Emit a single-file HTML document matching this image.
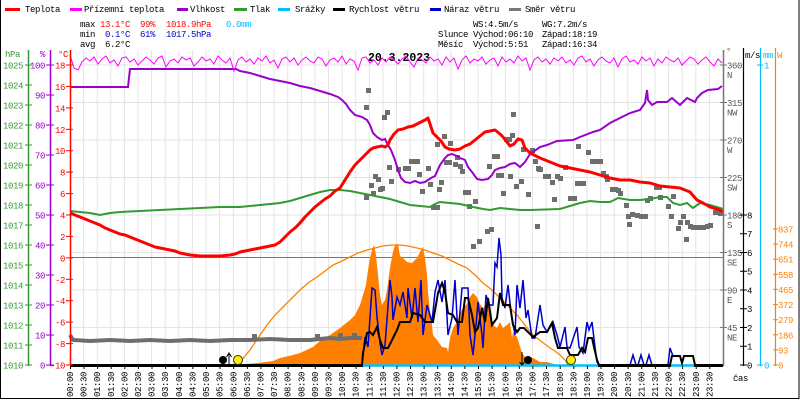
<!DOCTYPE html>
<html><head><meta charset="utf-8"><style>
html,body{margin:0;padding:0;background:#fff;}
svg{display:block;}
text{font-family:"Liberation Mono","DejaVu Sans Mono",monospace;font-size:9px;letter-spacing:-0.4px;}
</style></head><body>
<svg width="800" height="400" viewBox="0 0 800 400" xmlns="http://www.w3.org/2000/svg">
<rect x="0" y="0" width="800" height="400" fill="#fff"/>
<rect x="0.5" y="-2" width="798.5" height="400.5" fill="none" stroke="#000" stroke-width="1"/>

<!-- legend -->
<g stroke-width="3">
<line x1="5" y1="9.5" x2="20" y2="9.5" stroke="#ff0000"/>
<line x1="70" y1="9.5" x2="82" y2="9.5" stroke="#ff00ff"/>
<line x1="177" y1="9.5" x2="188" y2="9.5" stroke="#9900cc"/>
<line x1="234" y1="9.5" x2="247" y2="9.5" stroke="#339933"/>
<line x1="278" y1="9.5" x2="290" y2="9.5" stroke="#00bfff"/>
<line x1="333" y1="9.5" x2="345" y2="9.5" stroke="#000"/>
<line x1="430" y1="9.5" x2="441" y2="9.5" stroke="#0000cc"/>
<line x1="509" y1="9.5" x2="521" y2="9.5" stroke="#777"/>
</g>
<g fill="#000">
<text x="25" y="12">Teplota</text>
<text x="84" y="12">Přízemní teplota</text>
<text x="190" y="12">Vlhkost</text>
<text x="250" y="12">Tlak</text>
<text x="295" y="12">Srážky</text>
<text x="349" y="12">Rychlost větru</text>
<text x="444" y="12">Náraz větru</text>
<text x="525" y="12">Směr větru</text>
<text x="80" y="27">max</text>
<text x="80" y="37">min</text>
<text x="80" y="47">avg</text>
<text x="105" y="47">6.2°C</text>
<text x="473" y="27">WS:4.5m/s</text>
<text x="542" y="27">WG:7.2m/s</text>
<text x="438" y="37">Slunce</text>
<text x="473" y="37">Východ:06:10</text>
<text x="542" y="37">Západ:18:19</text>
<text x="438" y="47">Měsíc</text>
<text x="473" y="47">Východ:5:51</text>
<text x="542" y="47">Západ:16:34</text>
</g>
<g fill="#ff0000">
<text x="100" y="27">13.1°C</text>
<text x="140" y="27">99%</text>
<text x="166" y="27">1018.9hPa</text>
</g>
<text x="226" y="27" fill="#00bfff">0.0mm</text>
<g fill="#0000cc">
<text x="105" y="37">0.1°C</text>
<text x="140" y="37">61%</text>
<text x="166" y="37">1017.5hPa</text>
</g>

<!-- grid -->
<g stroke="#e4e4e4" stroke-width="1">
<line x1="83.6" y1="50" x2="83.6" y2="365"/><line x1="97.2" y1="50" x2="97.2" y2="365"/><line x1="110.8" y1="50" x2="110.8" y2="365"/><line x1="124.4" y1="50" x2="124.4" y2="365"/><line x1="138" y1="50" x2="138" y2="365"/><line x1="151.6" y1="50" x2="151.6" y2="365"/><line x1="165.2" y1="50" x2="165.2" y2="365"/><line x1="178.8" y1="50" x2="178.8" y2="365"/><line x1="192.4" y1="50" x2="192.4" y2="365"/><line x1="206" y1="50" x2="206" y2="365"/><line x1="219.6" y1="50" x2="219.6" y2="365"/><line x1="233.3" y1="50" x2="233.3" y2="365"/><line x1="246.9" y1="50" x2="246.9" y2="365"/><line x1="260.5" y1="50" x2="260.5" y2="365"/><line x1="274.1" y1="50" x2="274.1" y2="365"/><line x1="287.7" y1="50" x2="287.7" y2="365"/><line x1="301.3" y1="50" x2="301.3" y2="365"/><line x1="314.9" y1="50" x2="314.9" y2="365"/><line x1="328.5" y1="50" x2="328.5" y2="365"/><line x1="342.1" y1="50" x2="342.1" y2="365"/><line x1="355.7" y1="50" x2="355.7" y2="365"/><line x1="369.3" y1="50" x2="369.3" y2="365"/><line x1="382.9" y1="50" x2="382.9" y2="365"/><line x1="396.5" y1="50" x2="396.5" y2="365"/><line x1="410.1" y1="50" x2="410.1" y2="365"/><line x1="423.7" y1="50" x2="423.7" y2="365"/><line x1="437.3" y1="50" x2="437.3" y2="365"/><line x1="450.9" y1="50" x2="450.9" y2="365"/><line x1="464.5" y1="50" x2="464.5" y2="365"/><line x1="478.1" y1="50" x2="478.1" y2="365"/><line x1="491.7" y1="50" x2="491.7" y2="365"/><line x1="505.3" y1="50" x2="505.3" y2="365"/><line x1="518.9" y1="50" x2="518.9" y2="365"/><line x1="532.5" y1="50" x2="532.5" y2="365"/><line x1="546.1" y1="50" x2="546.1" y2="365"/><line x1="559.8" y1="50" x2="559.8" y2="365"/><line x1="573.4" y1="50" x2="573.4" y2="365"/><line x1="587" y1="50" x2="587" y2="365"/><line x1="600.6" y1="50" x2="600.6" y2="365"/><line x1="614.2" y1="50" x2="614.2" y2="365"/><line x1="627.8" y1="50" x2="627.8" y2="365"/><line x1="641.4" y1="50" x2="641.4" y2="365"/><line x1="655" y1="50" x2="655" y2="365"/><line x1="668.6" y1="50" x2="668.6" y2="365"/><line x1="682.2" y1="50" x2="682.2" y2="365"/><line x1="695.8" y1="50" x2="695.8" y2="365"/><line x1="709.4" y1="50" x2="709.4" y2="365"/>
<line x1="70" y1="65" x2="723" y2="65"/><line x1="70" y1="102.5" x2="723" y2="102.5"/><line x1="70" y1="140" x2="723" y2="140"/><line x1="70" y1="177.5" x2="723" y2="177.5"/><line x1="70" y1="215" x2="723" y2="215"/><line x1="70" y1="252.5" x2="723" y2="252.5"/><line x1="70" y1="290" x2="723" y2="290"/><line x1="70" y1="327.5" x2="723" y2="327.5"/>
</g>
<line x1="70" y1="257.5" x2="723" y2="257.5" stroke="#777" stroke-width="1"/>

<!-- title -->
<text x="399" y="61" text-anchor="middle" style="font-weight:bold;font-size:11.5px;letter-spacing:0">20.3.2023</text>

<!-- solar radiation -->
<path d="M245,365 L247,364 L257,363 L273,361 L280,358 L293,355 L300,353 L313,347 L320,341 L330,335 L340,328 L350,320 L355,315 L360,305 L363,295 L366,285 L368,270 L370,258 L372,250 L374,245 L376,255 L378,275 L380,295 L382,305 L385,300 L387,290 L389,275 L391,262 L393,252 L395,245 L398,244 L400,256 L403,258 L407,262 L412,263 L417,258 L420,252 L423,247 L425,258 L427,275 L428,292 L430,312 L432,325 L433,335 L437,340 L442,347 L447,348 L448,352 L450,338 L453,328 L457,322 L460,313 L463,308 L467,304 L470,297 L473,293 L477,297 L480,304 L483,308 L487,304 L490,310 L493,325 L497,328 L500,322 L503,328 L507,325 L510,322 L512,338 L513,332 L517,337 L518,340 L522,353 L525,357 L533,358 L540,362 L547,362 L557,365 Z" fill="#ff8000"/>
<path d="M238,365 L240,362 L250,350 L258,338 L267,325 L275,315 L283,307 L292,298 L300,290 L308,283 L317,277 L325,271 L333,265 L342,261 L350,257 L358,253 L367,250 L375,248 L383,246 L392,245 L400,245 L408,246 L417,248 L425,250 L433,253 L442,256 L450,260 L458,264 L467,268 L475,275 L483,283 L492,290 L500,298 L508,306 L517,315 L525,325 L533,335 L542,342 L550,348 L555,351 L560,355 L565,360 L568,365" fill="none" stroke="#ff8000" stroke-width="1.3"/>

<!-- wind direction -->
<path d="M70,335 L73,340 L90,341 L110,340 L130,341 L150,340 L170,341 L190,340 L210,341 L230,340 L250,340 L270,339 L290,340 L310,340 L320,339 L330,338 L340,339 L350,338 L362,338" fill="none" stroke="#6e6e6e" stroke-width="4"/>
<g fill="#6e6e6e">
<rect x="252" y="334" width="5" height="4"/><rect x="315" y="334" width="5" height="4"/><rect x="338" y="333" width="5" height="5"/><rect x="352" y="333" width="5" height="5"/>
<rect x="366" y="88" width="5" height="5"/><rect x="364" y="105" width="5" height="5"/><rect x="385" y="110" width="5" height="5"/><rect x="382" y="115" width="5" height="5"/><rect x="435" y="142" width="5" height="5"/><rect x="442" y="134" width="5" height="5"/><rect x="448" y="141" width="5" height="5"/><rect x="511" y="112" width="5" height="5"/><rect x="510" y="133" width="5" height="5"/><rect x="504" y="137" width="5" height="5"/><rect x="507" y="137" width="5" height="5"/><rect x="521" y="147" width="5" height="5"/><rect x="530" y="148" width="5" height="5"/><rect x="533" y="159" width="5" height="5"/><rect x="536" y="166" width="5" height="5"/><rect x="387" y="165" width="5" height="5"/><rect x="373" y="174" width="5" height="5"/><rect x="376" y="177" width="5" height="5"/><rect x="389" y="179" width="5" height="5"/><rect x="396" y="167" width="5" height="5"/><rect x="403" y="166" width="5" height="5"/><rect x="406" y="166" width="5" height="5"/><rect x="409" y="159" width="5" height="5"/><rect x="412" y="159" width="5" height="5"/><rect x="415" y="159" width="5" height="5"/><rect x="417" y="172" width="5" height="5"/><rect x="426" y="166" width="5" height="5"/><rect x="428" y="182" width="5" height="5"/><rect x="420" y="189" width="5" height="5"/><rect x="369" y="183" width="5" height="5"/><rect x="380" y="186" width="5" height="5"/><rect x="378" y="187" width="5" height="5"/><rect x="364" y="195" width="5" height="5"/><rect x="371" y="191" width="5" height="5"/><rect x="437" y="187" width="5" height="5"/><rect x="439" y="180" width="5" height="5"/><rect x="444" y="160" width="5" height="5"/><rect x="447" y="160" width="5" height="5"/><rect x="453" y="162" width="5" height="5"/><rect x="455" y="155" width="5" height="5"/><rect x="458" y="164" width="5" height="5"/><rect x="460" y="169" width="5" height="5"/><rect x="463" y="190" width="5" height="5"/><rect x="466" y="190" width="5" height="5"/><rect x="467" y="204" width="5" height="5"/><rect x="473" y="199" width="5" height="5"/><rect x="431" y="205" width="5" height="5"/><rect x="435" y="205" width="5" height="5"/><rect x="492" y="154" width="5" height="5"/><rect x="495" y="154" width="5" height="5"/><rect x="487" y="164" width="5" height="5"/><rect x="496" y="173" width="5" height="5"/><rect x="499" y="173" width="5" height="5"/><rect x="508" y="174" width="5" height="5"/><rect x="519" y="179" width="5" height="5"/><rect x="514" y="184" width="5" height="5"/><rect x="501" y="191" width="5" height="5"/><rect x="526" y="192" width="5" height="5"/><rect x="537" y="167" width="5" height="5"/><rect x="576" y="144" width="5" height="5"/><rect x="586" y="150" width="5" height="5"/><rect x="590" y="159" width="5" height="5"/><rect x="594" y="159" width="5" height="5"/><rect x="598" y="159" width="5" height="5"/><rect x="538" y="167" width="5" height="5"/><rect x="543" y="174" width="5" height="5"/><rect x="546" y="174" width="5" height="5"/><rect x="555" y="174" width="5" height="5"/><rect x="558" y="176" width="5" height="5"/><rect x="550" y="180" width="5" height="5"/><rect x="563" y="165" width="5" height="5"/><rect x="575" y="181" width="5" height="5"/><rect x="578" y="181" width="5" height="5"/><rect x="581" y="181" width="5" height="5"/><rect x="601" y="171" width="5" height="5"/><rect x="605" y="177" width="5" height="5"/><rect x="604" y="174" width="5" height="5"/><rect x="610" y="187" width="5" height="5"/><rect x="613" y="187" width="5" height="5"/><rect x="616" y="188" width="5" height="5"/><rect x="618" y="191" width="5" height="5"/><rect x="568" y="196" width="5" height="5"/><rect x="572" y="196" width="5" height="5"/><rect x="552" y="197" width="5" height="5"/><rect x="624" y="203" width="5" height="5"/><rect x="630" y="212" width="5" height="5"/><rect x="635" y="213" width="5" height="5"/><rect x="639" y="214" width="5" height="5"/><rect x="643" y="214" width="5" height="5"/><rect x="626" y="214" width="5" height="5"/><rect x="627" y="222" width="5" height="5"/><rect x="535" y="224" width="5" height="5"/><rect x="645" y="198" width="5" height="5"/><rect x="648" y="196" width="5" height="5"/><rect x="654" y="185" width="5" height="5"/><rect x="657" y="185" width="5" height="5"/><rect x="658" y="195" width="5" height="5"/><rect x="666" y="204" width="5" height="5"/><rect x="671" y="194" width="5" height="5"/><rect x="669" y="214" width="5" height="5"/><rect x="681" y="214" width="5" height="5"/><rect x="678" y="220" width="5" height="5"/><rect x="676" y="226" width="5" height="5"/><rect x="685" y="220" width="5" height="5"/><rect x="688" y="224" width="5" height="5"/><rect x="691" y="225" width="5" height="5"/><rect x="696" y="225" width="5" height="5"/><rect x="701" y="225" width="5" height="5"/><rect x="705" y="224" width="5" height="5"/><rect x="708" y="223" width="5" height="5"/><rect x="713" y="210" width="5" height="5"/><rect x="718" y="211" width="5" height="5"/><rect x="684" y="237" width="5" height="5"/><rect x="471" y="244" width="5" height="5"/><rect x="477" y="239" width="5" height="5"/><rect x="485" y="229" width="5" height="5"/><rect x="489" y="227" width="5" height="5"/>
</g>

<!-- pressure -->
<path d="M70,211 L80,212 L90,213 L100,215 L110,213 L120,212 L140,211 L160,210 L180,209 L200,208 L220,207 L240,207 L260,205 L280,203 L290,201 L300,198 L310,195 L320,192 L330,190 L340,190 L350,191 L360,193 L370,195 L380,197 L390,199 L400,202 L410,205 L420,206 L430,207 L435,204 L440,202 L450,203 L460,204 L473,207 L483,209 L490,210 L500,208 L510,209 L520,210 L530,210 L560,209 L570,206 L580,203 L590,201 L600,202 L610,202 L618,198 L630,200 L640,200 L650,199 L660,197 L667,197 L673,203 L680,205 L687,203 L693,208 L700,203 L710,205 L720,208 L723,209" fill="none" stroke="#339933" stroke-width="2"/>

<!-- humidity -->
<path d="M70,87 L128,87 L130,69 L236,69 L240,71 L250,73 L260,76 L270,79 L280,81 L290,83 L300,86 L310,88 L320,91 L330,94 L338,97 L342,100 L346,104 L350,110 L355,115 L362,117 L367,120 L370,125 L373,133 L377,137 L382,140 L385,139 L388,145 L391,150 L395,160 L398,170 L401,178 L405,182 L410,183 L415,181 L420,183 L425,182 L428,180 L431,178 L435,176 L440,165 L445,158 L448,155 L452,154 L457,156 L460,158 L465,160 L468,167 L472,172 L477,179 L482,180 L488,179 L492,175 L495,170 L500,168 L505,167 L510,164 L515,163 L520,167 L525,162 L530,154 L540,147 L547,145 L557,141 L573,140 L580,137 L593,132 L600,130 L610,123 L620,118 L630,113 L640,110 L645,103 L647,90 L648,100 L652,105 L657,102 L667,102 L672,98 L680,105 L687,98 L695,102 L697,98 L702,93 L708,90 L718,89 L722,86" fill="none" stroke="#9900cc" stroke-width="2"/>

<!-- temperature -->
<path d="M70,213 L75,215 L80,217 L85,219 L90,221 L95,223 L100,225 L105,228 L110,230 L115,232 L120,234 L125,235 L130,237 L135,239 L140,241 L145,243 L150,245 L155,247 L160,248 L165,249 L170,250 L175,251 L180,253 L185,254 L190,255 L195,255.5 L200,256 L210,256 L220,256 L230,255 L235,254 L240,252 L245,251 L250,250 L255,249 L260,248 L265,247 L270,246 L275,245 L280,242 L285,237 L290,232 L295,228 L300,223 L305,217 L310,212 L315,207 L320,203 L325,199 L330,196 L335,191 L340,188 L345,180 L350,172 L355,165 L360,160 L365,155 L370,150 L373,148 L377,147 L382,146 L385,147 L388,145 L390,140 L394,134 L398,130 L403,129 L408,127 L413,126 L417,124 L421,122 L425,120 L428,118 L430,124 L433,133 L437,137 L441,141 L445,147 L449,149 L455,150 L460,149 L465,146 L470,144 L475,140 L480,136 L485,132 L490,131 L495,130 L500,134 L503,137 L507,142 L510,146 L514,144 L518,139 L522,140 L525,148 L530,153 L540,158 L550,162 L560,166 L570,168 L580,170 L590,172 L600,175 L610,178 L620,180 L630,180 L640,182 L650,183 L660,186 L670,187 L680,188 L690,192 L697,200 L703,203 L710,207 L720,210 L723,212" fill="none" stroke="#ff0000" stroke-width="3" stroke-linejoin="round"/>

<!-- apparent temperature -->
<polyline fill="none" stroke="#ff00ff" stroke-width="1" points="70,55 74,68 78,70 82,62 86,58 90,61 94,57 98,64 102,59 106,56 110,63 114,60 118,66 122,58 126,57 130,62 134,59 138,65 142,61 146,57 150,60 154,64 158,58 162,56 166,67 170,61 174,59 178,63 182,57 186,60 190,58 194,66 198,62 202,57 206,61 210,59 214,64 218,56 222,60 226,63 230,58 234,71 238,60 242,57 246,62 250,59 254,64 258,58 262,61 266,56 270,63 274,60 278,68 282,59 286,57 290,62 294,58 298,65 302,60 306,57 310,61 314,63 318,57 322,59 326,66 330,60 334,58 338,62 342,56 346,64 350,59 354,61 358,70 362,58 366,57 370,63 374,60 378,65 382,58 386,62 390,57 394,60 398,64 402,59 406,56 410,62 414,67 418,58 422,60 426,63 430,57 434,61 438,59 442,65 446,57 450,62 454,58 458,69 462,60 466,56 470,63 474,59 478,61 482,57 486,64 490,60 494,58 498,66 502,57 506,62 510,59 514,63 518,56 522,61 526,58 530,70 534,60 538,57 542,62 546,59 550,64 554,58 558,61 562,57 566,63 570,60 574,65 578,58 582,56 586,62 590,59 594,66 598,60 602,57 606,61 610,63 614,58 618,67 622,59 626,56 630,62 634,60 638,64 642,57 646,61 650,58 654,66 658,59 662,63 666,57 670,60 674,62 678,58 682,65 686,61 690,57 694,59 698,64 702,60 706,57 710,62 714,66 718,59 722,63"/>

<!-- precipitation zero line -->
<line x1="70" y1="365.5" x2="723" y2="365.5" stroke="#00bfff" stroke-width="2.5"/>

<!-- gusts -->
<path d="M362,365 L365,337 L368,347 L372,288 L375,290 L377,317 L380,343 L382,355 L385,345 L390,280 L392,297 L393,320 L397,297 L400,305 L403,292 L407,318 L408,288 L412,318 L415,288 L418,322 L421,280 L423,335 L427,305 L432,322 L435,292 L438,280 L442,302 L445,280 L448,335 L452,318 L455,280 L458,335 L462,288 L468,288 L470,335 L473,355 L476,325 L478,302 L482,335 L483,348 L486,295 L489,305 L493,305 L495,263 L497,267 L499,238 L501,255 L502,298 L505,308 L508,285 L511,312 L515,335 L517,285 L520,308 L523,280 L526,318 L528,310 L532,338 L535,338 L540,305 L543,325 L547,332 L553,322 L557,335 L560,347 L565,327 L567,347 L570,348 L577,327 L579,347 L583,353 L587,322 L589,330 L592,322 L595,347 L597,362 L599,365 M630,365 L633,355 L636,365 L638,365 L641,355 L644,365 L646,365 L649,355 L652,365 M668,365 L670,348 L673,356" fill="none" stroke="#0000cc" stroke-width="1.5"/>

<!-- wind speed -->
<path d="M362,365 L363,353 L367,333 L370,332 L373,335 L377,327 L380,340 L383,348 L388,348 L392,340 L397,330 L400,322 L410,322 L413,313 L420,315 L425,322 L433,322 L438,293 L442,283 L445,292 L448,313 L453,315 L457,322 L462,322 L465,298 L468,298 L472,315 L475,332 L478,328 L482,308 L485,322 L488,298 L492,325 L497,318 L500,293 L503,305 L510,305 L513,325 L517,332 L520,328 L524,328 L528,332 L533,337 L540,332 L547,332 L552,323 L555,338 L558,348 L567,348 L570,355 L578,355 L582,348 L585,352 L588,338 L592,338 L594,347 L597,360 L599,365 M670,365 L672,356 L680,356 L682,363 L684,356 L693,356 L695,365" fill="none" stroke="#000" stroke-width="2"/>
<g fill="#000">
<rect x="70" y="364" width="293" height="3"/>
<rect x="598" y="364" width="73" height="3"/>
<rect x="694" y="364" width="29" height="3"/>
</g>

<!-- sun / moon markers -->
<circle cx="223" cy="360" r="4" fill="#000"/>
<line x1="229" y1="365" x2="229" y2="354" stroke="#000" stroke-width="1"/>
<path d="M226.5,357 L229,353 L231.5,357" fill="none" stroke="#000" stroke-width="1"/>
<circle cx="238" cy="360" r="4.5" fill="#ffee00" stroke="#333" stroke-width="1"/>
<line x1="522" y1="352" x2="522" y2="365" stroke="#000" stroke-width="1"/>
<path d="M519.5,362 L522,365 L524.5,362" fill="none" stroke="#000" stroke-width="1"/>
<circle cx="528" cy="360" r="4" fill="#000"/>
<circle cx="571" cy="360" r="4.5" fill="#ffee00" stroke="#333" stroke-width="1"/>

<!-- left axes -->
<line x1="28.5" y1="50" x2="28.5" y2="366" stroke="#339933" stroke-width="1.5"/>
<line x1="50.5" y1="50" x2="50.5" y2="366" stroke="#9900cc" stroke-width="1.5"/>
<line x1="70.5" y1="50" x2="70.5" y2="366" stroke="#ff0000" stroke-width="1.5"/>
<text x="5" y="57" fill="#339933">hPa</text>
<text x="40" y="57" fill="#9900cc">%</text>
<text x="58" y="57" fill="#ff0000">°C</text>
<g stroke="#339933" stroke-width="1">
<line x1="25" y1="65" x2="32" y2="65"/><line x1="25" y1="85" x2="32" y2="85"/><line x1="25" y1="105" x2="32" y2="105"/><line x1="25" y1="125" x2="32" y2="125"/><line x1="25" y1="145" x2="32" y2="145"/><line x1="25" y1="165" x2="32" y2="165"/><line x1="25" y1="185" x2="32" y2="185"/><line x1="25" y1="205" x2="32" y2="205"/><line x1="25" y1="225" x2="32" y2="225"/><line x1="25" y1="245" x2="32" y2="245"/><line x1="25" y1="265" x2="32" y2="265"/><line x1="25" y1="285" x2="32" y2="285"/><line x1="25" y1="305" x2="32" y2="305"/><line x1="25" y1="325" x2="32" y2="325"/><line x1="25" y1="345" x2="32" y2="345"/><line x1="25" y1="365" x2="32" y2="365"/>
</g>
<g fill="#339933" text-anchor="end">
<text x="23" y="68.5">1025</text><text x="23" y="88.5">1024</text><text x="23" y="108.5">1023</text><text x="23" y="128.5">1022</text><text x="23" y="148.5">1021</text><text x="23" y="168.5">1020</text><text x="23" y="188.5">1019</text><text x="23" y="208.5">1018</text><text x="23" y="228.5">1017</text><text x="23" y="248.5">1016</text><text x="23" y="268.5">1015</text><text x="23" y="288.5">1014</text><text x="23" y="308.5">1013</text><text x="23" y="328.5">1012</text><text x="23" y="348.5">1011</text><text x="23" y="368.5">1010</text>
</g>
<g stroke="#9900cc" stroke-width="1">
<line x1="46" y1="65" x2="54" y2="65"/><line x1="46" y1="95" x2="54" y2="95"/><line x1="46" y1="125" x2="54" y2="125"/><line x1="46" y1="155" x2="54" y2="155"/><line x1="46" y1="185" x2="54" y2="185"/><line x1="46" y1="215" x2="54" y2="215"/><line x1="46" y1="245" x2="54" y2="245"/><line x1="46" y1="275" x2="54" y2="275"/><line x1="46" y1="305" x2="54" y2="305"/><line x1="46" y1="335" x2="54" y2="335"/><line x1="46" y1="365" x2="54" y2="365"/>
</g>
<g fill="#9900cc" text-anchor="end">
<text x="45" y="68.5">100</text><text x="45" y="98.5">90</text><text x="45" y="128.5">80</text><text x="45" y="158.5">70</text><text x="45" y="188.5">60</text><text x="45" y="218.5">50</text><text x="45" y="248.5">40</text><text x="45" y="278.5">30</text><text x="45" y="308.5">20</text><text x="45" y="338.5">10</text><text x="45" y="368.5">0</text>
</g>
<g stroke="#ff0000" stroke-width="1">
<line x1="66" y1="65" x2="73" y2="65"/><line x1="66" y1="86.4" x2="73" y2="86.4"/><line x1="66" y1="107.9" x2="73" y2="107.9"/><line x1="66" y1="129.3" x2="73" y2="129.3"/><line x1="66" y1="150.7" x2="73" y2="150.7"/><line x1="66" y1="172.1" x2="73" y2="172.1"/><line x1="66" y1="193.6" x2="73" y2="193.6"/><line x1="66" y1="215" x2="73" y2="215"/><line x1="66" y1="236.4" x2="73" y2="236.4"/><line x1="66" y1="257.9" x2="73" y2="257.9"/><line x1="66" y1="279.3" x2="73" y2="279.3"/><line x1="66" y1="300.7" x2="73" y2="300.7"/><line x1="66" y1="322.1" x2="73" y2="322.1"/><line x1="66" y1="343.6" x2="73" y2="343.6"/><line x1="66" y1="365" x2="73" y2="365"/>
</g>
<g fill="#ff0000" text-anchor="end">
<text x="65" y="68.5">18</text><text x="65" y="89.9">16</text><text x="65" y="111.4">14</text><text x="65" y="132.8">12</text><text x="65" y="154.2">10</text><text x="65" y="175.6">8</text><text x="65" y="197.1">6</text><text x="65" y="218.5">4</text><text x="65" y="239.9">2</text><text x="65" y="261.4">0</text><text x="65" y="282.8">-2</text><text x="65" y="304.2">-4</text><text x="65" y="325.6">-6</text><text x="65" y="347.1">-8</text><text x="65" y="368.5">-10</text>
</g>

<!-- right axes -->
<line x1="723.5" y1="50" x2="723.5" y2="366" stroke="#777" stroke-width="1.5"/>
<line x1="743.5" y1="48" x2="743.5" y2="366" stroke="#000" stroke-width="1.2"/>
<line x1="760.5" y1="48" x2="760.5" y2="366" stroke="#00bfff" stroke-width="1.2"/>
<line x1="775.5" y1="48" x2="775.5" y2="366" stroke="#ff8000" stroke-width="1.2"/>
<text x="726" y="54" fill="#555">°</text>
<text x="745" y="58" fill="#000">m/s</text>
<text x="763" y="58" fill="#00bfff">mm</text>
<text x="777" y="58" fill="#ff8000">W</text>
<g stroke="#777" stroke-width="1">
<line x1="720" y1="65" x2="727" y2="65"/><line x1="720" y1="102.5" x2="727" y2="102.5"/><line x1="720" y1="140" x2="727" y2="140"/><line x1="720" y1="177.5" x2="727" y2="177.5"/><line x1="720" y1="215" x2="727" y2="215"/><line x1="720" y1="252.5" x2="727" y2="252.5"/><line x1="720" y1="290" x2="727" y2="290"/><line x1="720" y1="327.5" x2="727" y2="327.5"/>
</g>
<g fill="#555">
<text x="727" y="68.5">360</text><text x="727" y="78">N</text>
<text x="727" y="106">315</text><text x="727" y="115.5">NW</text>
<text x="727" y="143.5">270</text><text x="727" y="153">W</text>
<text x="727" y="181">225</text><text x="727" y="190.5">SW</text>
<text x="727" y="218.5">180</text><text x="727" y="228">S</text>
<text x="727" y="256">135</text><text x="727" y="265.5">SE</text>
<text x="727" y="293.5">90</text><text x="727" y="303">E</text>
<text x="727" y="331">45</text><text x="727" y="340.5">NE</text>
</g>
<g stroke="#000" stroke-width="1">
<line x1="740" y1="215" x2="747" y2="215"/><line x1="740" y1="233.75" x2="747" y2="233.75"/><line x1="740" y1="252.5" x2="747" y2="252.5"/><line x1="740" y1="271.25" x2="747" y2="271.25"/><line x1="740" y1="290" x2="747" y2="290"/><line x1="740" y1="308.75" x2="747" y2="308.75"/><line x1="740" y1="327.5" x2="747" y2="327.5"/><line x1="740" y1="346.25" x2="747" y2="346.25"/><line x1="740" y1="365" x2="747" y2="365"/>
</g>
<g fill="#000">
<text x="747" y="218.5">8</text><text x="747" y="237.2">7</text><text x="747" y="256">6</text><text x="747" y="274.7">5</text><text x="747" y="293.5">4</text><text x="747" y="312.2">3</text><text x="747" y="331">2</text><text x="747" y="349.7">1</text><text x="747" y="368.5">0</text>
</g>
<g stroke="#00bfff" stroke-width="1">
<line x1="757" y1="65" x2="763" y2="65"/><line x1="757" y1="365" x2="763" y2="365"/>
</g>
<g fill="#00bfff">
<text x="764" y="68.5">1</text><text x="764" y="368.5">0</text>
</g>
<g stroke="#ff8000" stroke-width="1">
<line x1="773" y1="229" x2="778" y2="229"/><line x1="773" y1="244.1" x2="778" y2="244.1"/><line x1="773" y1="259.2" x2="778" y2="259.2"/><line x1="773" y1="274.3" x2="778" y2="274.3"/><line x1="773" y1="289.4" x2="778" y2="289.4"/><line x1="773" y1="304.6" x2="778" y2="304.6"/><line x1="773" y1="319.7" x2="778" y2="319.7"/><line x1="773" y1="334.8" x2="778" y2="334.8"/><line x1="773" y1="349.9" x2="778" y2="349.9"/><line x1="773" y1="365" x2="778" y2="365"/>
</g>
<g fill="#ff8000">
<text x="778" y="232.5">837</text><text x="778" y="247.6">744</text><text x="778" y="262.7">651</text><text x="778" y="277.8">558</text><text x="778" y="292.9">465</text><text x="778" y="308.1">372</text><text x="778" y="323.2">279</text><text x="778" y="338.3">186</text><text x="778" y="353.4">93</text><text x="778" y="368.5">0</text>
</g>
<text x="733" y="381" fill="#000">čas</text>

<!-- x ticks -->
<g stroke="#000" stroke-width="1">
<line x1="70.5" y1="366" x2="70.5" y2="369"/><line x1="84" y1="366" x2="84" y2="369"/><line x1="97.6" y1="366" x2="97.6" y2="369"/><line x1="111.2" y1="366" x2="111.2" y2="369"/><line x1="124.8" y1="366" x2="124.8" y2="369"/><line x1="138.4" y1="366" x2="138.4" y2="369"/><line x1="152" y1="366" x2="152" y2="369"/><line x1="165.6" y1="366" x2="165.6" y2="369"/><line x1="179.2" y1="366" x2="179.2" y2="369"/><line x1="192.8" y1="366" x2="192.8" y2="369"/><line x1="206.4" y1="366" x2="206.4" y2="369"/><line x1="220" y1="366" x2="220" y2="369"/><line x1="233.7" y1="366" x2="233.7" y2="369"/><line x1="247.3" y1="366" x2="247.3" y2="369"/><line x1="260.9" y1="366" x2="260.9" y2="369"/><line x1="274.5" y1="366" x2="274.5" y2="369"/><line x1="288.1" y1="366" x2="288.1" y2="369"/><line x1="301.7" y1="366" x2="301.7" y2="369"/><line x1="315.3" y1="366" x2="315.3" y2="369"/><line x1="328.9" y1="366" x2="328.9" y2="369"/><line x1="342.5" y1="366" x2="342.5" y2="369"/><line x1="356.1" y1="366" x2="356.1" y2="369"/><line x1="369.7" y1="366" x2="369.7" y2="369"/><line x1="383.3" y1="366" x2="383.3" y2="369"/><line x1="396.9" y1="366" x2="396.9" y2="369"/><line x1="410.5" y1="366" x2="410.5" y2="369"/><line x1="424.1" y1="366" x2="424.1" y2="369"/><line x1="437.7" y1="366" x2="437.7" y2="369"/><line x1="451.3" y1="366" x2="451.3" y2="369"/><line x1="464.9" y1="366" x2="464.9" y2="369"/><line x1="478.5" y1="366" x2="478.5" y2="369"/><line x1="492.1" y1="366" x2="492.1" y2="369"/><line x1="505.7" y1="366" x2="505.7" y2="369"/><line x1="519.3" y1="366" x2="519.3" y2="369"/><line x1="532.9" y1="366" x2="532.9" y2="369"/><line x1="546.5" y1="366" x2="546.5" y2="369"/><line x1="560.2" y1="366" x2="560.2" y2="369"/><line x1="573.8" y1="366" x2="573.8" y2="369"/><line x1="587.4" y1="366" x2="587.4" y2="369"/><line x1="601" y1="366" x2="601" y2="369"/><line x1="614.6" y1="366" x2="614.6" y2="369"/><line x1="628.2" y1="366" x2="628.2" y2="369"/><line x1="641.8" y1="366" x2="641.8" y2="369"/><line x1="655.4" y1="366" x2="655.4" y2="369"/><line x1="669" y1="366" x2="669" y2="369"/><line x1="682.6" y1="366" x2="682.6" y2="369"/><line x1="696.2" y1="366" x2="696.2" y2="369"/><line x1="709.8" y1="366" x2="709.8" y2="369"/>
</g>

<!-- x labels -->
<g fill="#000">
<text transform="translate(73,397) rotate(-90)">00:00</text>
<text transform="translate(86.6,397) rotate(-90)">00:30</text>
<text transform="translate(100.2,397) rotate(-90)">01:00</text>
<text transform="translate(113.8,397) rotate(-90)">01:30</text>
<text transform="translate(127.4,397) rotate(-90)">02:00</text>
<text transform="translate(141,397) rotate(-90)">02:30</text>
<text transform="translate(154.6,397) rotate(-90)">03:00</text>
<text transform="translate(168.2,397) rotate(-90)">03:30</text>
<text transform="translate(181.8,397) rotate(-90)">04:00</text>
<text transform="translate(195.4,397) rotate(-90)">04:30</text>
<text transform="translate(209,397) rotate(-90)">05:00</text>
<text transform="translate(222.6,397) rotate(-90)">05:30</text>
<text transform="translate(236.3,397) rotate(-90)">06:00</text>
<text transform="translate(249.9,397) rotate(-90)">06:30</text>
<text transform="translate(263.5,397) rotate(-90)">07:00</text>
<text transform="translate(277.1,397) rotate(-90)">07:30</text>
<text transform="translate(290.7,397) rotate(-90)">08:00</text>
<text transform="translate(304.3,397) rotate(-90)">08:30</text>
<text transform="translate(317.9,397) rotate(-90)">09:00</text>
<text transform="translate(331.5,397) rotate(-90)">09:30</text>
<text transform="translate(345.1,397) rotate(-90)">10:00</text>
<text transform="translate(358.7,397) rotate(-90)">10:30</text>
<text transform="translate(372.3,397) rotate(-90)">11:00</text>
<text transform="translate(385.9,397) rotate(-90)">11:30</text>
<text transform="translate(399.5,397) rotate(-90)">12:00</text>
<text transform="translate(413.1,397) rotate(-90)">12:30</text>
<text transform="translate(426.7,397) rotate(-90)">13:00</text>
<text transform="translate(440.3,397) rotate(-90)">13:30</text>
<text transform="translate(453.9,397) rotate(-90)">14:00</text>
<text transform="translate(467.5,397) rotate(-90)">14:30</text>
<text transform="translate(481.1,397) rotate(-90)">15:00</text>
<text transform="translate(494.7,397) rotate(-90)">15:30</text>
<text transform="translate(508.3,397) rotate(-90)">16:00</text>
<text transform="translate(521.9,397) rotate(-90)">16:30</text>
<text transform="translate(535.5,397) rotate(-90)">17:00</text>
<text transform="translate(549.1,397) rotate(-90)">17:30</text>
<text transform="translate(562.8,397) rotate(-90)">18:00</text>
<text transform="translate(576.4,397) rotate(-90)">18:30</text>
<text transform="translate(590,397) rotate(-90)">19:00</text>
<text transform="translate(603.6,397) rotate(-90)">19:30</text>
<text transform="translate(617.2,397) rotate(-90)">20:00</text>
<text transform="translate(630.8,397) rotate(-90)">20:30</text>
<text transform="translate(644.4,397) rotate(-90)">21:00</text>
<text transform="translate(658,397) rotate(-90)">21:30</text>
<text transform="translate(671.6,397) rotate(-90)">22:00</text>
<text transform="translate(685.2,397) rotate(-90)">22:30</text>
<text transform="translate(698.8,397) rotate(-90)">23:00</text>
<text transform="translate(712.4,397) rotate(-90)">23:30</text>
</g>
</svg>
</body></html>
